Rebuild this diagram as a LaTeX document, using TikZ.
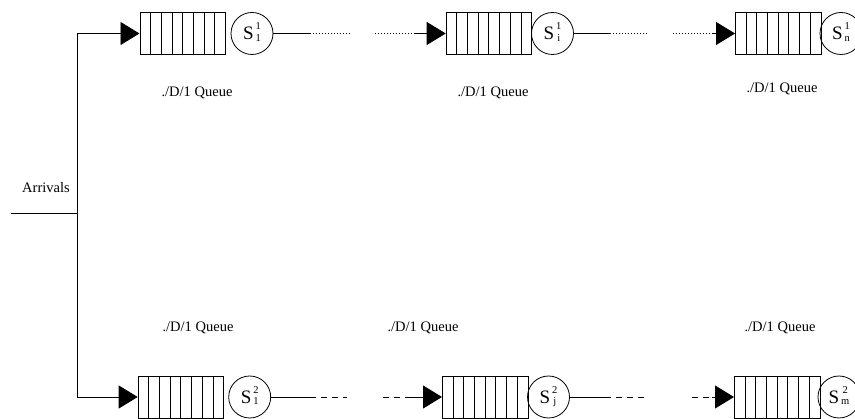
\documentclass[tikz,border=0pt]{standalone}
\usepackage{fontspec}
\setmainfont{Liberation Serif}
\usetikzlibrary{arrows.meta}
\newcommand\srvlab[2]{S\kern2pt\raisebox{3.5pt}{\fontsize{10.5}{10.5}\selectfont\begin{tabular}{@{}c@{}}#1\\[1pt]#2\end{tabular}}}
\begin{document}
\begin{tikzpicture}[x=1pt,y=-1pt, line width=0.8pt,
  queue/.style={draw, minimum width=85.5pt, minimum height=42pt, inner sep=0pt, anchor=west,
    path picture={\foreach \k in {1,...,7}{\draw[line width=0.8pt] ([xshift=\k*10.6875pt]path picture bounding box.north west) -- ([xshift=\k*10.6875pt]path picture bounding box.south west);}}},
  server/.style={draw, circle, minimum size=42pt, inner sep=0pt, font=\fontsize{19}{19}\selectfont},
  lab/.style={font=\fontsize{14.5}{16}\selectfont, inner sep=0pt},
  tip/.style={-{Triangle[length=19pt,width=23pt]}},
  dots/.style={dash pattern=on 1pt off 2pt},
  dashes/.style={dash pattern=on 6pt off 5pt}
]
\clip (0,0) rectangle (855,419);
% top row
\node[queue] (q1) at (139.5,33.5) {};
\node[server] (s1) at (252,33.5) {\srvlab{1}{1}};
\node[queue] (q2) at (445.7,33.5) {};
\node[server] (s2) at (552.5,33.5) {\srvlab{1}{i}};
\node[queue] (q3) at (735,33.5) {};
\node[server] (s3) at (841,33.5) {\srvlab{1}{n}};
% bottom row
\node[queue] (q4) at (137.7,397) {};
\node[server] (s4) at (249.7,397) {\srvlab{2}{1}};
\node[queue] (q5) at (442,397) {};
\node[server] (s5) at (548.5,397) {\srvlab{2}{j}};
\node[queue] (q6) at (734,397) {};
\node[server] (s6) at (839,397) {\srvlab{2}{m}};
% labels
\node[lab] (l1) at (197,93) {./D/1 Queue};
\node[lab] (l2) at (493,93) {./D/1 Queue};
\node[lab] (l3) at (782,89) {./D/1 Queue};
\node[lab] (l4) at (198,328) {./D/1 Queue};
\node[lab] (l5) at (423,328) {./D/1 Queue};
\node[lab] (l6) at (780,328) {./D/1 Queue};
\node[lab] (arr) at (46,188) {Arrivals};
% arrivals
\coordinate (in) at (11,213);
\coordinate (jn) at (77,213);
\coordinate (top) at (77,33.5);
\coordinate (bot) at (77,397);
\draw (in) -- (jn);
\draw (top) -- (bot);
\draw[tip] (top) -- (q1.west);
\draw[tip] (bot) -- (q4.west);
% top connectors
\coordinate (a1) at (310,33.5); \coordinate (a2) at (350,33.5);
\coordinate (a3) at (375,33.5); \coordinate (a4) at (415,33.5);
\draw (s1.east) -- (a1);
\draw[dots] (a1) -- (a2);
\draw[dots] (a3) -- (a4);
\draw[tip] (a4) -- (q2.west);
\coordinate (b1) at (610,33.5); \coordinate (b2) at (647,33.5);
\coordinate (b3) at (673,33.5); \coordinate (b4) at (712,33.5);
\draw (s2.east) -- (b1);
\draw[dots] (b1) -- (b2);
\draw[dots] (b3) -- (b4);
\draw[tip] (b4) -- (q3.west);
% bottom connectors
\coordinate (c1) at (310,397); \coordinate (c2) at (347,397);
\coordinate (c3) at (383,397); \coordinate (c4) at (410,397);
\draw (s4.east) -- (c1);
\draw[dashes] (c1) -- (c2);
\draw[dashes] (c3) -- (c4);
\draw[tip] (c4) -- (q5.west);
\coordinate (d1) at (605,397); \coordinate (d2) at (645,397);
\coordinate (d3) at (692,397); \coordinate (d4) at (712,397);
\draw (s5.east) -- (d1);
\draw[dashes] (d1) -- (d2);
\draw[dashes] (d3) -- (d4);
\draw[tip] (d4) -- (q6.west);
\end{tikzpicture}
\end{document}
